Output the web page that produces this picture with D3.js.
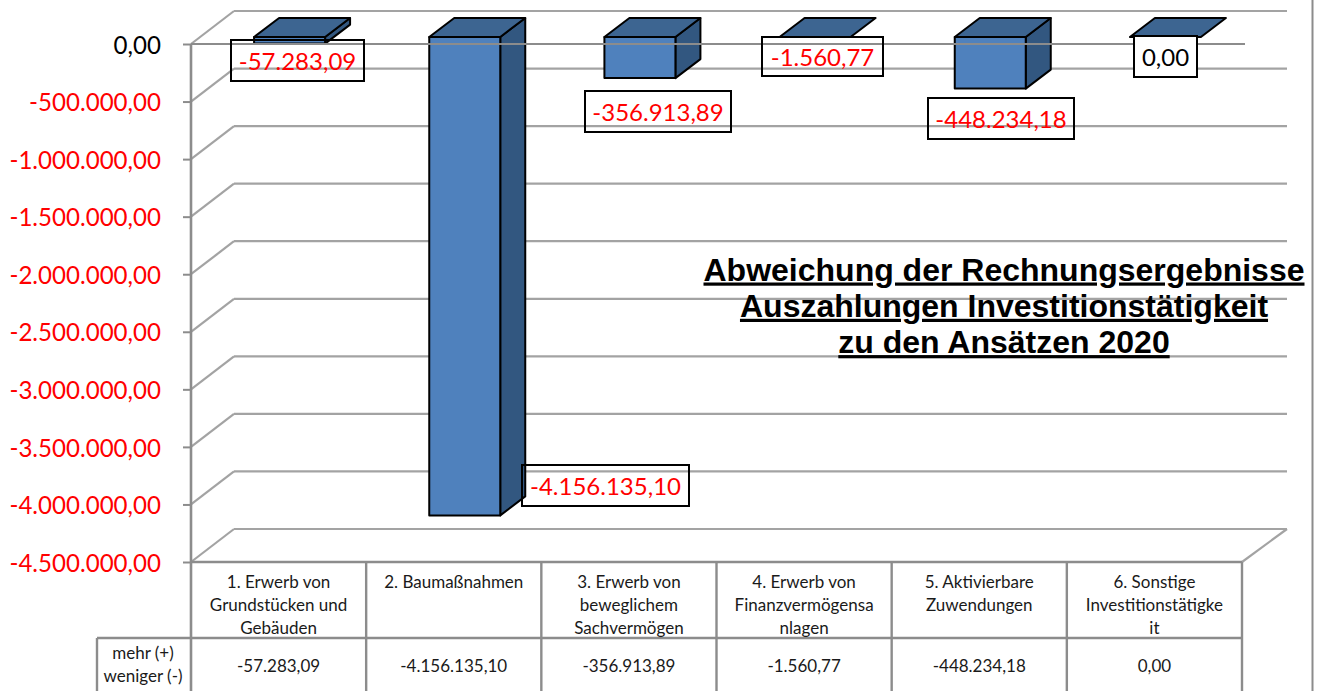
<!DOCTYPE html>
<html><head><meta charset="utf-8">
<script src="https://cdn.jsdelivr.net/npm/d3@7"></script>
<style>html,body{margin:0;padding:0;background:#fff;overflow:hidden}svg{display:block}</style>
</head><body><svg id="c" width="1322" height="691"></svg>
<script>
const categories=["1. Erwerb von|Grundstücken und|Gebäuden","2. Baumaßnahmen","3. Erwerb von|beweglichem|Sachvermögen","4. Erwerb von|Finanzvermögensa|nlagen","5. Aktivierbare|Zuwendungen","6. Sonstige|Investitionstätigke|it"];
const values=[-57283.09,-4156135.10,-356913.89,-1560.77,-448234.18,0];
const tickValues=[0,-500000,-1000000,-1500000,-2000000,-2500000,-3000000,-3500000,-4000000,-4500000];
const rowHeader=["mehr (+)","weniger (-)"];
const titleLines=["Abweichung der Rechnungsergebnisse","Auszahlungen Investitionstätigkeit","zu den Ansätzen 2020"];

// layout only
const labelBoxes=[[231,40,133,41,false],[522,465,167,41,false],[585,91,146,41,false],[762,37,121,39,false],[928,98,146,41,false],[1134,36,63,41,true]];
const font="Lato, 'Open Sans', sans-serif";
const GRID="#a3a3a3",TBL="#8c8c8c";
const depth={x:43,y:-33},barShift={x:11,y:-7},barDepth={x:25,y:-19},barW=71;

const loc=d3.formatLocale({decimal:",",thousands:".",grouping:[3],currency:["","€"],minus:"-"});
const fmt=loc.format(",.2f");
const svg=d3.select("#c");
const x=d3.scaleBand().domain(categories).range([191,1242]).padding(0);
const y=d3.scaleLinear().domain([0,-4500000]).range([44,562]);

// right border
svg.append("line").attr("x1",1312.5).attr("x2",1312.5).attr("y1",0).attr("y2",691).attr("stroke",TBL).attr("stroke-width",2);

// back wall + side wall grid
const grid=svg.append("g").attr("stroke",GRID).attr("stroke-width",2.2).attr("fill","none");
grid.selectAll("line.b").data(tickValues).join("line").attr("class","b")
 .attr("x1",191+depth.x).attr("x2",1242+45).attr("y1",d=>y(d)+depth.y).attr("y2",d=>y(d)+depth.y);
grid.selectAll("line.d").data(tickValues).join("line").attr("class","d")
 .attr("x1",191).attr("x2",191+depth.x).attr("y1",d=>y(d)).attr("y2",d=>y(d)+depth.y);
grid.append("line").attr("x1",1242).attr("x2",1287).attr("y1",562).attr("y2",529);

// bars
const bars=svg.append("g").attr("stroke","#000").attr("stroke-width",2).attr("stroke-linejoin","round")
 .selectAll("g").data(values.map((v,i)=>({v,c:categories[i]}))).join("g");
const X0=d=>x(d.c)+x.bandwidth()/2+barShift.x-barW/2;
const T=y(0)+barShift.y;
const B=d=>y(d.v)+barShift.y;
bars.filter(d=>B(d)-T>1).append("path").attr("fill","#325780")
 .attr("d",d=>{const r=X0(d)+barW;return `M${r},${T}L${r+barDepth.x},${T+barDepth.y}L${r+barDepth.x},${B(d)+barDepth.y}L${r},${B(d)}Z`;});
bars.append("path").attr("fill","#3d6591")
 .attr("d",d=>{const l=X0(d),r=l+barW;return `M${l},${T}L${l+barDepth.x},${T+barDepth.y}L${r+barDepth.x},${T+barDepth.y}L${r},${T}Z`;});
bars.filter(d=>B(d)-T>1).append("rect").attr("fill","#4f81bd")
 .attr("x",X0).attr("y",T).attr("width",barW).attr("height",d=>B(d)-T);

// zero line in front
svg.append("line").attr("x1",191).attr("x2",1245).attr("y1",y(0)).attr("y2",y(0)).attr("stroke","#8c8c8c").attr("stroke-width",2.2);

// value axis
const ax=svg.append("g").attr("transform","translate(191,0)")
 .call(d3.axisLeft(y).tickValues(tickValues).tickFormat(fmt).tickSize(8).tickPadding(22));
ax.select(".domain").attr("stroke",TBL).attr("stroke-width",2.6).attr("d","M0,44V691");
ax.selectAll(".tick line").attr("stroke",TBL).attr("stroke-width",2);
ax.selectAll(".tick text").attr("font-family",font).attr("font-size",24.1).attr("fill",d=>d<0?"#ff0000":"#000").attr("dy","0.38em");

// data table
const rows=[562,638,691];
const t=svg.append("g").attr("stroke",TBL).attr("stroke-width",2.4);
t.append("line").attr("x1",191).attr("x2",1242).attr("y1",rows[0]).attr("y2",rows[0]);
t.append("line").attr("x1",97).attr("x2",1242).attr("y1",rows[1]).attr("y2",rows[1]);
t.append("line").attr("x1",97).attr("x2",97).attr("y1",rows[1]).attr("y2",rows[2]);
t.selectAll("line.v").data(categories).join("line").attr("class","v")
 .attr("x1",d=>x(d)+x.bandwidth()).attr("x2",d=>x(d)+x.bandwidth()).attr("y1",rows[0]).attr("y2",rows[2]);
const txt=svg.append("g").attr("font-family",font).attr("font-size",17).attr("fill","#1a1a1a").attr("text-anchor","middle");
categories.forEach(c=>{
  c.split("|").forEach((l,i)=>txt.append("text").attr("x",x(c)+x.bandwidth()/2).attr("y",588+i*23).text(l));
});
values.forEach((v,i)=>txt.append("text").attr("x",x(categories[i])+x.bandwidth()/2).attr("y",672).text(fmt(v)));
rowHeader.forEach((l,i)=>txt.append("text").attr("x",143).attr("y",659+i*22.5).text(l));

// data labels
const lb=svg.append("g").selectAll("g").data(values).join("g");
lb.append("rect").attr("x",(d,i)=>labelBoxes[i][0]).attr("y",(d,i)=>labelBoxes[i][1])
 .attr("width",(d,i)=>labelBoxes[i][2]).attr("height",(d,i)=>labelBoxes[i][3])
 .attr("fill",(d,i)=>labelBoxes[i][4]?"#fff":"none").attr("stroke","#000").attr("stroke-width",2);
lb.append("text").attr("x",(d,i)=>labelBoxes[i][0]+labelBoxes[i][2]/2).attr("y",(d,i)=>labelBoxes[i][1]+labelBoxes[i][3]/2+9.5)
 .attr("text-anchor","middle").attr("font-family",font).attr("font-size",24).attr("fill",d=>d<0?"#ff0000":"#000").text(fmt);

// title
svg.append("g").selectAll("text").data(titleLines).join("text")
 .attr("x",1004).attr("y",(d,i)=>280.5+i*36.3).attr("text-anchor","middle")
 .attr("font-family","'Liberation Sans',Arial,sans-serif").attr("font-weight","bold").attr("font-size",32)
 .attr("text-decoration","underline").attr("fill","#000").text(d=>d);
</script></body></html>
